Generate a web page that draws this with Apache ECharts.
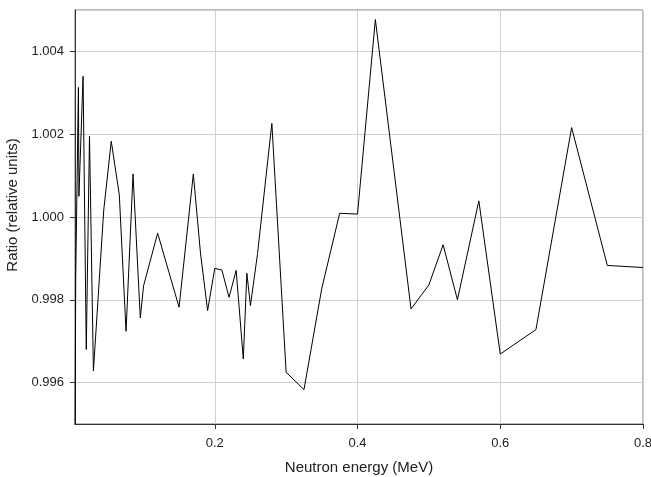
<!DOCTYPE html>
<html>
<head>
<meta charset="utf-8">
<script src="https://cdn.jsdelivr.net/npm/echarts@6/dist/echarts.min.js"></script>
<style>
  html, body { margin: 0; padding: 0; background: #fff; }
  #main { width: 651px; height: 477px; }
</style>
</head>
<body>
<div id="main"></div>
<script>
// neutron energy (MeV)
const energy = [
  0.0042, 0.0052, 0.0066, 0.009, 0.0097, 0.0155, 0.020, 0.0245, 0.030, 0.0445,
  0.055, 0.0663, 0.0757, 0.0855, 0.0957, 0.1003, 0.12, 0.15, 0.17, 0.18,
  0.19, 0.20, 0.21, 0.22, 0.23, 0.24, 0.245, 0.25, 0.26, 0.28,
  0.30, 0.325, 0.35, 0.375, 0.40, 0.425, 0.475, 0.50, 0.52, 0.54,
  0.57, 0.60, 0.65, 0.70, 0.75, 0.80
];
// ratio (relative units)
const ratio = [
  0.9944, 0.99855, 1.00024, 1.00313, 1.0005, 1.0034, 0.9968, 1.00195, 0.99628, 1.00017,
  1.00183, 1.00053, 0.99724, 1.00104, 0.99756, 0.99834, 0.99961, 0.99782, 1.00104, 0.99913,
  0.99774, 0.99876, 0.99872, 0.99806, 0.99871, 0.99657, 0.99864, 0.99786, 0.99912, 1.00226,
  0.99625, 0.99583, 0.99828, 1.00009, 1.00007, 1.00477, 0.99778, 0.99836, 0.99933, 0.998,
  1.00039, 0.99669, 0.99728, 1.00216, 0.99883, 0.99878
];

const xMin = 0.0042, xMax = 0.8;
const yMin = 0.995, yMax = 1.005;

const points = energy.map((e, i) => [e, ratio[i]]);

const chart = echarts.init(document.getElementById('main'));
const font = 'Liberation Sans, Arial, sans-serif';
chart.setOption({
  animation: false,
  grid: {
    left: 75, right: 8, top: 10, bottom: 53,
    outerBoundsMode: 'none',
    show: true, borderColor: '#777', borderWidth: 1
  },
  xAxis: {
    type: 'value',
    min: xMin, max: xMax, splitNumber: 4,
    name: 'Neutron energy (MeV)',
    nameLocation: 'middle', nameGap: 36,
    nameTextStyle: { fontFamily: font, fontSize: 15, color: '#222' },
    axisLine: { lineStyle: { color: '#333' } },
    axisTick: { length: 5, lineStyle: { color: '#333' } },
    axisLabel: {
      fontFamily: font, fontSize: 13, color: '#222', margin: 13,
      showMinLabel: false,
      formatter: v => v.toFixed(1)
    },
    splitLine: { show: true, lineStyle: { color: '#d0d0d0' } }
  },
  yAxis: {
    type: 'value',
    min: yMin, max: yMax, splitNumber: 5,
    name: 'Ratio (relative units)',
    nameLocation: 'middle', nameGap: 49,
    nameTextStyle: { fontFamily: font, fontSize: 15, color: '#222', padding: [0, 0, 0, 24] },
    axisLine: { lineStyle: { color: '#333' } },
    axisTick: { length: 5, lineStyle: { color: '#333' } },
    axisLabel: {
      fontFamily: font, fontSize: 13, color: '#222', margin: 11,
      showMinLabel: false, showMaxLabel: false,
      formatter: v => v.toFixed(3)
    },
    splitLine: { show: true, lineStyle: { color: '#d0d0d0' } }
  },
  series: [{
    type: 'line',
    data: points,
    showSymbol: false,
    clip: true,
    lineStyle: { color: '#000', width: 1 }
  }]
});
</script>
</body>
</html>
